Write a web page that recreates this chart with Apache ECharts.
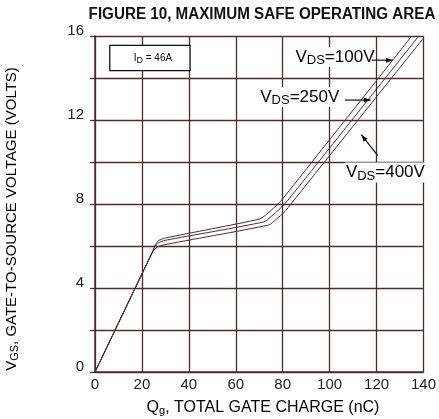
<!DOCTYPE html>
<html>
<head>
<meta charset="utf-8">
<script src="https://cdn.jsdelivr.net/npm/echarts@6/dist/echarts.min.js"></script>
<style>html,body{margin:0;padding:0;background:#fff;}#c{width:439px;height:419px;}</style>
</head>
<body>
<div id="c"></div>
<script>
// Data (Qg nC, Vgs V)
var curve100V = [[0,0],[24,5.6],[25.5,6.0],[27,6.25],[30,6.38],[70,7.28],[73,7.5],[77,7.9],[80,8.25],[135,16]];
var curve250V = [[0,0],[24,5.6],[25.5,5.95],[27,6.15],[30,6.27],[72,7.15],[75,7.4],[79,7.8],[82,8.15],[138,16]];
var curve400V = [[0,0],[24,5.6],[25.5,5.85],[28,6.02],[74,7.0],[77,7.25],[81,7.65],[83.5,8.0],[140,15.9]];
var xTicks = [0,20,40,60,80,100,120,140];
var yTicks = [0,4,8,12,16];
var titleText = 'FIGURE 10, MAXIMUM SAFE OPERATING AREA';

var dark = '#4f2c2c';
var chart = echarts.init(document.getElementById('c'), null, {renderer:'canvas'});
var lineStyle = {color: dark, width: 1};
function ser(name, d){ return {name:name, type:'line', data:d, symbol:'none', smooth:0.25, lineStyle:lineStyle, animation:false}; }
var font = '"Liberation Sans", Arial, sans-serif';
chart.setOption({
  animation:false,
  grid:{left:95, right:9, top:36, bottom:47},
  xAxis:{type:'value', min:0, max:140, interval:20,
    axisLine:{show:true, lineStyle:{color:dark, width:1.5}},
    axisTick:{show:false},
    splitLine:{show:true, lineStyle:{color:dark, width:1.3}},
    axisLabel:{color:'#222', fontSize:15, fontFamily:font, margin:5,
      formatter:function(v){return xTicks.indexOf(v)>=0? String(v):'';}}
  },
  yAxis:{type:'value', min:0, max:16, interval:2,
    axisLine:{show:true, lineStyle:{color:dark, width:1.5}},
    axisTick:{show:true, inside:false, length:5, lineStyle:{color:dark, width:1.3}},
    splitLine:{show:true, lineStyle:{color:dark, width:1.3}},
    axisLabel:{color:'#222', fontSize:15, fontFamily:font, margin:11, verticalAlign:'bottom', lineHeight:11,
      formatter:function(v){return yTicks.indexOf(v)>=0? String(v):'';}}
  },
  series:[ser('VDS=100V',curve100V), ser('VDS=250V',curve250V), ser('VDS=400V',curve400V)]
});

function px(p){ return chart.convertToPixel({seriesIndex:0}, p); }
var rich = {
  v:{fontSize:17, fontFamily:font, color:'#222'},
  s:{fontSize:13, fontFamily:font, color:'#222', padding:[7,0,0,0]}
};
function vdsLabel(val, pos){
  return {type:'text', x:pos[0], y:pos[1], z:10,
    style:{text:'{v|V}{s|DS}{v|='+val+'V}', rich:rich, align:'left', verticalAlign:'middle', backgroundColor:'#fff', padding:[0,1,0,1]}};
}
function arrow(a, b){
  var ang = Math.atan2(b[1]-a[1], b[0]-a[0]);
  var L = 7, w = 2.5;
  var p1 = [b[0]-L*Math.cos(ang)+w*Math.sin(ang), b[1]-L*Math.sin(ang)-w*Math.cos(ang)];
  var p2 = [b[0]-L*Math.cos(ang)-w*Math.sin(ang), b[1]-L*Math.sin(ang)+w*Math.cos(ang)];
  return [
    {type:'line', z:11, shape:{x1:a[0],y1:a[1],x2:b[0],y2:b[1]}, style:{stroke:'#111', lineWidth:1.2}},
    {type:'polygon', z:11, shape:{points:[b,p1,p2]}, style:{fill:'#111'}}
  ];
}
var l100 = px([85.0,15.0]), a100s = px([118,14.85]), a100e = px([127,14.85]);
var l250 = px([70.0,13.1]), a250s = px([106.5,12.95]), a250e = px([117.5,12.95]);
var l400 = px([106.5,9.5]), a400s = px([120.5,10.3]), a400e = px([113.5,11.3]);
var lb0 = px([6.3,15.55]), lb1 = px([40.5,14.35]);
var g = [
  {type:'text', x:262, y:15, scaleX:0.95, originX:0, style:{text:titleText, font:'bold 16px '+font, fill:'#111', align:'center', verticalAlign:'middle'}},
  {type:'text', x:117, y:-3, style:{text:'DS\'', font:'12px '+font, fill:'#444', align:'center', verticalAlign:'middle'}},
  {type:'text', rotation:Math.PI/2, x:12, y:219, style:{text:'{v|V}{s|GS}{v|, GATE-TO-SOURCE VOLTAGE (VOLTS)}', rich:{v:{fontSize:15, fontFamily:font, color:'#222'}, s:{fontSize:11, fontFamily:font, color:'#222', padding:[6,0,0,0]}}, align:'center', verticalAlign:'middle'}},
  {type:'text', x:263, y:408, style:{text:'{v|Q}{s|g}{v|, TOTAL GATE CHARGE (nC)}', rich:{v:{fontSize:16, fontFamily:font, color:'#222'}, s:{fontSize:11, fontFamily:font, color:'#222', padding:[6,0,0,0]}}, align:'center', verticalAlign:'middle'}},
  {type:'rect', z:10, shape:{x:lb0[0], y:lb0[1], width:lb1[0]-lb0[0], height:lb1[1]-lb0[1]}, style:{fill:'#fff', stroke:'#111', lineWidth:1.3}},
  {type:'text', z:11, x:(lb0[0]+lb1[0])/2+3, y:(lb0[1]+lb1[1])/2, style:{text:'{a|I}{b|D}{a| = 46A}', rich:{a:{fontSize:10, fontFamily:font, color:'#222'}, b:{fontSize:9, fontFamily:font, color:'#222', padding:[5,0,0,0]}}, align:'center', verticalAlign:'middle'}},
  vdsLabel(100, l100), vdsLabel(250, l250), vdsLabel(400, l400)
].concat(arrow(a100s,a100e), arrow(a250s,a250e), arrow(a400s,a400e));
chart.setOption({graphic:{elements:g}});
</script>
</body>
</html>
